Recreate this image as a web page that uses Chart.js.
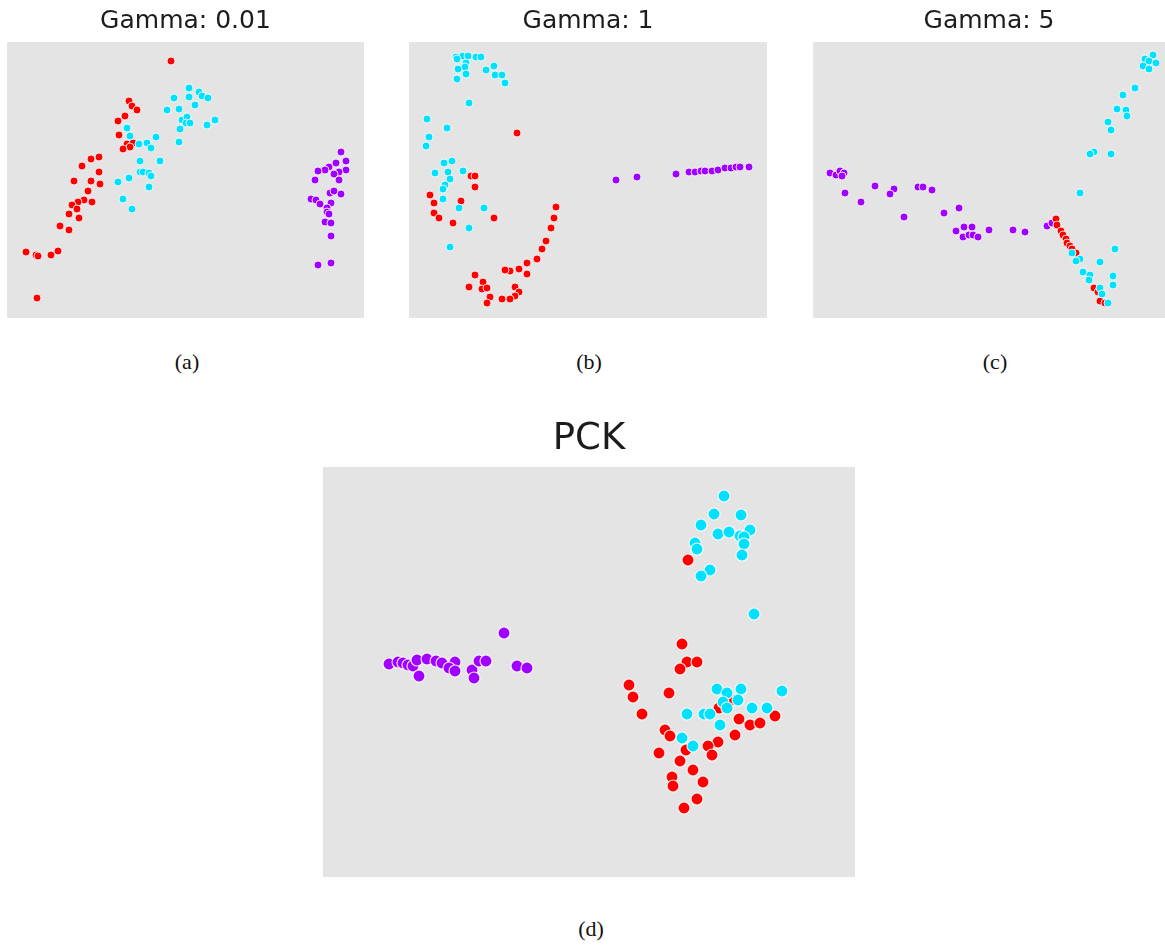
<!DOCTYPE html>
<html>
<head>
<meta charset="utf-8">
<script src="https://cdn.jsdelivr.net/npm/chart.js@4/dist/chart.umd.min.js"></script>
<style>
  body { margin: 0; background: #fff; width: 1165px; height: 946px; position: relative; overflow: hidden; }
  canvas { position: absolute; }
  .cap { position: absolute; font-family: "Liberation Serif", serif; font-size: 22px; color: #111; transform: translateX(-50%); }
</style>
</head>
<body>
<canvas id="g001" width="357" height="318" style="left:7px;top:0px"></canvas>
<canvas id="g1" width="358" height="318" style="left:409px;top:0px"></canvas>
<canvas id="g5" width="352" height="318" style="left:813px;top:0px"></canvas>
<canvas id="pck" width="532" height="472" style="left:323px;top:405px"></canvas>
<div class="cap" style="left:187px;top:349px">(a)</div>
<div class="cap" style="left:589px;top:349px">(b)</div>
<div class="cap" style="left:995px;top:349px">(c)</div>
<div class="cap" style="left:591px;top:916px">(d)</div>
<script>
// embedding coordinates, one array per class and panel
const g001Red = [[164,19],[122,59],[125,64],[130,68],[118,74],[111,79],[112,93],[120,102],[126,101],[123,105],[116,107],[92,115],[84,117],[75,124],[92,130],[67,139],[84,139],[93,142],[81,149],[77,158],[85,160],[71,160],[65,163],[70,167],[62,172],[72,176],[53,184],[62,188],[19,210],[29,213],[31,214],[44,213],[51,209],[30,256]];
const g001Cyan = [[167,56],[160,68],[172,67],[175,78],[173,87],[172,100],[120,86],[123,94],[149,95],[140,101],[132,102],[144,106],[133,119],[153,119],[133,130],[136,130],[142,131],[144,134],[122,136],[111,140],[142,145],[116,157],[125,167],[182,46],[192,50],[182,55],[195,54],[201,56],[188,63],[180,75],[179,81],[183,81],[208,78],[200,83]];
const g001Purple = [[334,110],[339,119],[329,121],[322,125],[318,128],[311,129],[339,128],[332,130],[327,132],[308,138],[332,138],[323,151],[327,149],[334,152],[304,157],[309,158],[313,162],[324,161],[320,166],[320,170],[322,172],[318,180],[324,181],[324,194],[311,223],[324,221]];

const g1Red = [[108,91],[62,134],[66,134],[66,145],[21,153],[25,161],[52,159],[25,171],[30,176],[44,181],[85,176],[147,165],[145,176],[142,186],[137,199],[133,207],[128,217],[118,221],[110,227],[101,229],[96,228],[118,232],[66,233],[74,240],[60,245],[73,247],[78,246],[106,245],[110,250],[106,254],[81,255],[93,257],[101,257],[78,261]];
const g1Cyan = [[47,15],[54,14],[59,14],[67,15],[72,15],[48,17],[57,21],[56,25],[49,27],[85,24],[77,28],[86,33],[93,33],[57,32],[48,37],[96,41],[60,61],[18,77],[38,86],[20,95],[17,104],[43,119],[35,121],[54,129],[26,131],[39,130],[41,137],[36,143],[34,147],[34,157],[50,166],[75,166],[60,186],[41,205]];
const g1Purple = [[207,138],[228,135],[267,132],[280,130],[286,130],[292,129],[296,129],[303,129],[309,128],[316,126],[322,126],[327,125],[331,125],[340,125]];

const g5Red = [[243,177],[244,183],[248,189],[250,193],[253,197],[254,201],[257,204],[259,207],[263,211],[281,246],[285,250],[287,259],[292,261]];
const g5Cyan = [[340,13],[332,17],[336,19],[343,21],[330,24],[336,27],[322,46],[310,53],[304,67],[313,68],[314,74],[295,80],[298,88],[281,110],[277,112],[298,112],[267,151],[302,207],[259,211],[267,217],[263,219],[287,220],[270,230],[277,233],[276,238],[300,234],[300,243],[287,246],[289,252],[295,261]];
const g5Purple = [[17,131],[23,133],[27,129],[31,131],[29,134],[32,151],[48,160],[62,144],[81,147],[77,152],[91,175],[105,145],[110,145],[119,148],[131,171],[146,166],[143,189],[151,185],[159,185],[150,195],[156,193],[160,193],[165,195],[176,188],[200,188],[212,190],[234,184],[239,181]];

const pckRed = [[365,93],[359,177],[364,195],[374,195],[357,202],[306,218],[310,230],[346,226],[319,247],[396,241],[409,233],[416,252],[427,258],[437,256],[452,249],[412,268],[395,275],[385,279],[342,263],[347,269],[363,283],[336,286],[389,288],[357,294],[370,303],[349,310],[350,319],[380,315],[374,332],[361,341]];
const pckCyan = [[401,29],[391,47],[418,48],[378,58],[395,67],[406,65],[427,63],[417,69],[421,70],[421,77],[372,76],[374,82],[419,88],[387,103],[378,109],[431,147],[394,222],[404,226],[418,222],[400,235],[415,233],[404,241],[429,241],[444,241],[459,224],[364,247],[381,247],[387,247],[397,258],[359,271],[370,279]];
const pckPurple = [[181,166],[66,197],[75,195],[80,196],[85,198],[90,199],[94,193],[104,192],[113,194],[119,196],[132,195],[126,201],[132,204],[96,209],[149,203],[151,211],[156,194],[163,194],[194,199],[204,201]];

const RED = "#ff0000";
const CYAN = "#00e1ff";
const PURPLE = "#a000ff";

// fill the plot area grey before anything is drawn
const greyPanel = {
  id: "greyPanel",
  beforeDraw(chart) {
    const { ctx, chartArea: a } = chart;
    ctx.save();
    ctx.fillStyle = "#e4e4e4";
    ctx.fillRect(a.left, a.top, a.right - a.left, a.bottom - a.top);
    ctx.restore();
  }
};

const toPts = arr => arr.map(p => ({ x: p[0], y: p[1] }));

function makePanel(id, title, red, cyan, purple, opts) {
  const el = document.getElementById(id);
  const w = el.width;
  const h = el.height - opts.top;
  const ds = (data, color) => ({
    data: toPts(data),
    backgroundColor: color,
    borderColor: "rgba(255,255,255,0.85)",
    borderWidth: opts.edge,
    pointRadius: opts.r,
    clip: false
  });
  return new Chart(el, {
    type: "scatter",
    // cyan first so it sits on top of red
    data: { datasets: [ds(cyan, CYAN), ds(red, RED), ds(purple, PURPLE)] },
    options: {
      responsive: false,
      animation: false,
      layout: { padding: 0, autoPadding: false },
      scales: {
        x: { display: false, min: 0, max: w },
        y: { display: false, min: 0, max: h, reverse: true }
      },
      plugins: {
        legend: { display: false },
        tooltip: { enabled: false },
        title: {
          display: true,
          text: title,
          color: "#1c1c1c",
          font: { family: "DejaVu Sans", size: opts.font, weight: "normal" },
          padding: opts.pad
        }
      }
    },
    plugins: [greyPanel]
  });
}

makePanel("g001", "Gamma: 0.01", g001Red, g001Cyan, g001Purple, { top: 42, font: 25, pad: { top: 6, bottom: 6 }, r: 4, edge: 1 });
makePanel("g1", "Gamma: 1", g1Red, g1Cyan, g1Purple, { top: 42, font: 25, pad: { top: 6, bottom: 6 }, r: 4, edge: 1 });
makePanel("g5", "Gamma: 5", g5Red, g5Cyan, g5Purple, { top: 42, font: 25, pad: { top: 6, bottom: 6 }, r: 4, edge: 1 });
makePanel("pck", "PCK", pckRed, pckCyan, pckPurple, { top: 62, font: 37, pad: { top: 12, bottom: 5.6 }, r: 6, edge: 1.2 });
</script>
</body>
</html>
